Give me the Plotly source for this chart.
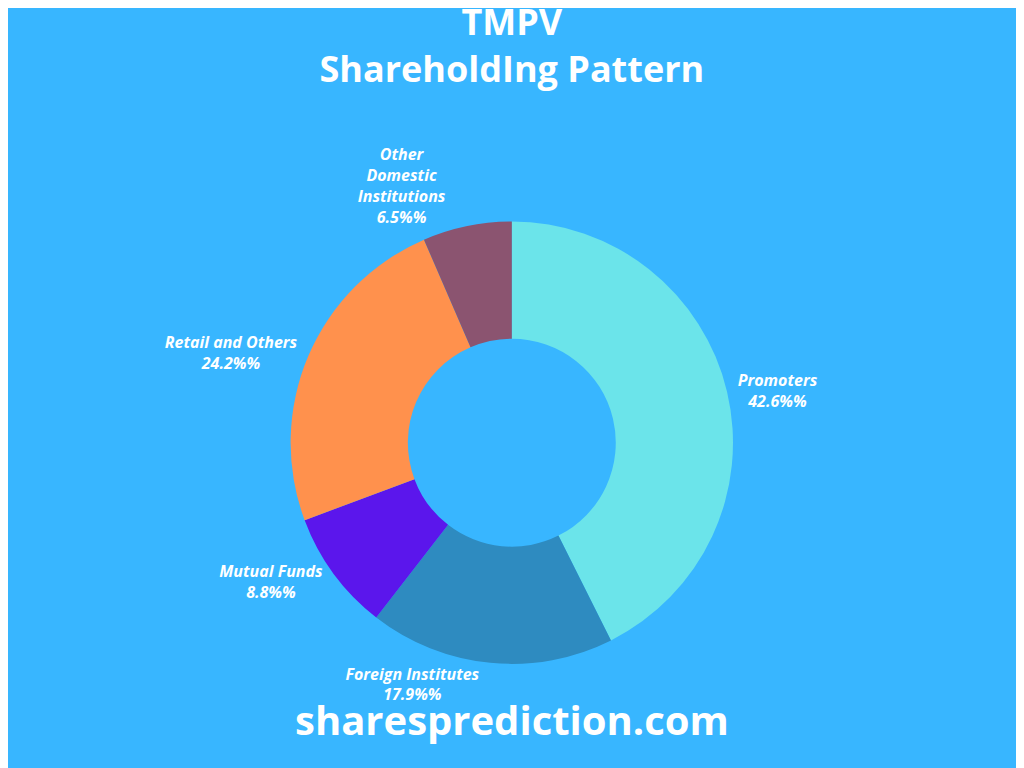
import plotly.graph_objects as go

labels = ["Promoters", "Foreign Institutes", "Mutual Funds", "Retail and Others", "Other<br>Domestic<br>Institutions"]
values = [42.6, 17.9, 8.8, 24.2, 6.5]
colors = ["#6BE4EA", "#2E8BC0", "#5B16EC", "#FF914D", "#8B5470"]

fig = go.Figure(go.Pie(
    labels=labels, values=values, hole=0.47, sort=False, direction="clockwise", rotation=0,
    marker=dict(colors=colors, line=dict(width=0)),
    textposition="outside", texttemplate="%{label}<br>%{value}%%",
    textfont=dict(family="Open Sans", size=16, color="white", style="italic", weight="bold"),
    domain=dict(x=[0.276, 0.708], y=[0.146, 0.722]), showlegend=False,
))
fig.update_layout(
    width=1024, height=768, margin=dict(l=0, r=0, t=0, b=0),
    paper_bgcolor="#38B6FF", plot_bgcolor="#38B6FF",
    title=dict(text="TMPV<br>ShareholdIng Pattern", x=0.492, y=0.965, xanchor="center", yanchor="top",
               font=dict(family="Open Sans", size=36, color="white", weight="bold")),
    annotations=[dict(text="sharesprediction.com", x=0.492, y=0.035, xref="paper", yref="paper",
                      showarrow=False, font=dict(family="Open Sans", size=40, color="white", weight="bold"))],
)
fig.write_html("out.html")
